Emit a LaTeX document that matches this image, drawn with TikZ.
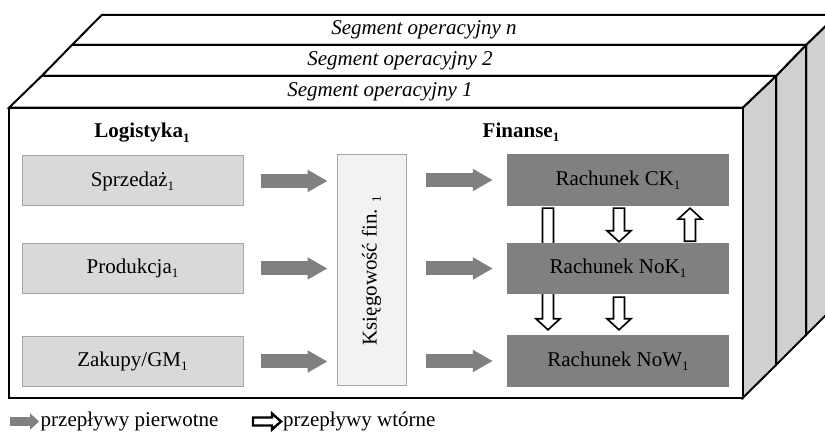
\documentclass[tikz,border=0pt]{standalone}
\usepackage{fontspec}
\setmainfont{Liberation Serif}
\usetikzlibrary{calc,arrows.meta}
\definecolor{lboxc}{HTML}{D9D9D9}
\definecolor{kboxc}{HTML}{F2F2F2}
\definecolor{dboxc}{HTML}{808080}
\definecolor{sidec}{HTML}{D0D0D0}
\definecolor{bordc}{HTML}{A6A6A6}
\definecolor{garc}{HTML}{808080}
\newcommand\sub[1]{\raisebox{-0.2em}{\fontsize{13}{13}\selectfont #1}}
\newcommand\wdown[2]{\draw[warr] let \p1=(#1), \p2=(#2) in
  (\x1-5.5pt,\y1) -- (\x1+5.5pt,\y1) -- (\x1+5.5pt,\y2+11pt) -- (\x1+12pt,\y2+11pt) -- (\x1,\y2)
  -- (\x1-12pt,\y2+11pt) -- (\x1-5.5pt,\y2+11pt) -- cycle;}
\newcommand\wup[2]{\draw[warr] let \p1=(#1), \p2=(#2) in
  (\x1-5.5pt,\y1) -- (\x1+5.5pt,\y1) -- (\x1+5.5pt,\y2-11pt) -- (\x1+12pt,\y2-11pt) -- (\x1,\y2)
  -- (\x1-12pt,\y2-11pt) -- (\x1-5.5pt,\y2-11pt) -- cycle;}
\newcommand\wright[2]{\draw[warr,line width=2.4pt] let \p1=(#1), \p2=(#2) in
  (\x1,\y1-4pt) -- (\x2-9pt,\y1-4pt) -- (\x2-9pt,\y1-8pt) -- (\x2,\y1) -- (\x2-9pt,\y1+8pt)
  -- (\x2-9pt,\y1+4pt) -- (\x1,\y1+4pt) -- cycle;}
\begin{document}
\begin{tikzpicture}[x=1pt,y=-1pt,font=\fontsize{21}{25}\selectfont,
  frame/.style={draw=black,line width=2pt,line join=miter},
  lbox/.style={draw=bordc,fill=lboxc,line width=1pt,minimum width=221pt,minimum height=50pt,inner sep=0pt},
  kbox/.style={draw=bordc,fill=kboxc,line width=1pt,minimum width=69pt,minimum height=231pt,inner sep=0pt},
  dbox/.style={fill=dboxc,minimum width=222pt,minimum height=52pt,inner sep=0pt},
  garr/.style={draw=garc,line width=14pt,-{Triangle[length=20pt 0 0,width=21pt 0 0]}},
  garrleg/.style={draw=garc,line width=9pt,-{Triangle[length=9pt 0 0,width=16pt 0 0]}},
  warr/.style={draw=black,fill=white,line width=1.6pt,line join=miter},
  seg/.style={font=\fontsize{21}{25}\selectfont\itshape,inner sep=0pt},
  head/.style={font=\fontsize{21}{25}\selectfont\bfseries,inner sep=0pt}]
\useasboundingbox (0,0) rectangle (825,435);
\clip (0,0) rectangle (825,435);
% side faces
\draw[frame,fill=sidec] (806,45) -- (837,15) -- (837,304) -- (806,335) -- cycle;
\draw[frame,fill=sidec] (776,76) -- (806,45) -- (806,335) -- (776,365) -- cycle;
\draw[frame,fill=sidec] (742.7,107.7) -- (776,76) -- (776,365) -- (742.7,398) -- cycle;
% top slabs
\draw[frame,fill=white] (72,45) -- (806,45) -- (837,15) -- (101.7,15) -- cycle;
\draw[frame,fill=white] (41.7,76) -- (776,76) -- (806,45) -- (72,45) -- cycle;
\draw[frame,fill=white] (9,107.7) -- (742.7,107.7) -- (776,76) -- (41.7,76) -- cycle;
\node[seg] (sn) at (424,30) {Segment operacyjny n};
\node[seg] (s2) at (400,61) {Segment operacyjny 2};
\node[seg] (s1) at (380,92) {Segment operacyjny 1};
% front
\draw[frame,fill=white] (9,107.7) rectangle (742.7,398);
\node[head] (log) at (142,133) {Logistyka\sub{\bfseries 1}};
\node[head] (fin) at (521,132) {Finanse\sub{\bfseries 1}};
\node[lbox] (sp) at (132.5,181) {Sprzedaż\sub{1}};
\node[lbox] (pr) at (132.5,268.5) {Produkcja\sub{1}};
\node[lbox] (za) at (132.5,361.5) {Zakupy/GM\sub{1}};
\node[kbox] (ks) at (371.5,270.5) {};
\node[rotate=90,inner sep=0pt] (kst) at (ks.center) {Księgowość fin. \sub{1}};
\node[dbox] (ck) at (618,180) {Rachunek CK\sub{1}};
\node[dbox] (now) at (618,361) {Rachunek NoW\sub{1}};
\wdown{$(ck.south)+(-70,2)$}{$(now.north)+(-70,-5)$}
\node[dbox,minimum height=51pt] (nok) at (618,268.5) {Rachunek NoK\sub{1}};
\wdown{$(ck.south)+(1,2)$}{$(nok.north)+(1,-1)$}
\wup{$(nok.north)+(72,-1.5)$}{$(ck.south)+(72,2)$}
\wdown{$(nok.south)+(1,3)$}{$(now.north)+(1,-5)$}
% primary flows
\draw[garr,shorten <=17pt,shorten >=9pt] (sp.east) -- (ks.west |- sp.east);
\draw[garr,shorten <=17pt,shorten >=9pt] (pr.east) -- (ks.west |- pr.east);
\draw[garr,shorten <=17pt,shorten >=9pt] (za.east) -- (ks.west |- za.east);
\draw[garr,shorten <=19pt,shorten >=14pt] (ks.east |- ck.west) -- (ck.west);
\draw[garr,shorten <=19pt,shorten >=14pt] (ks.east |- nok.west) -- (nok.west);
\draw[garr,shorten <=19pt,shorten >=14pt] (ks.east |- now.west) -- (now.west);
% legend
\coordinate (lg1) at (10,421.5);
\coordinate (lg2) at (39,421.5);
\draw[garrleg] (lg1) -- (lg2);
\node[anchor=base west,inner sep=0pt] (lt1) at (40.5,426.5) {przepływy pierwotne};
\coordinate (lw1) at (253,421.5);
\coordinate (lw2) at (281,421.5);
\wright{lw1}{lw2}
\node[anchor=base west,inner sep=0pt] (lt2) at (283,426.5) {przepływy wtórne};
\end{tikzpicture}
\end{document}
